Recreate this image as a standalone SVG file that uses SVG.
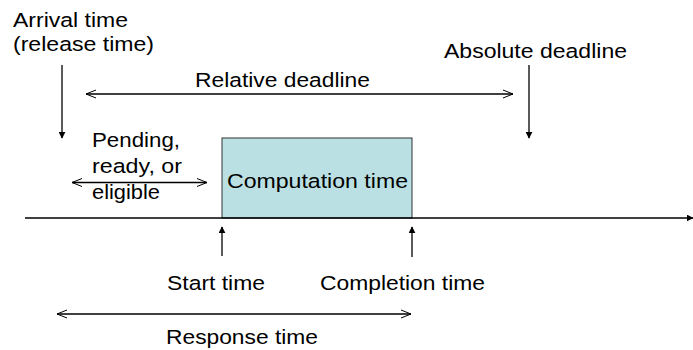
<svg xmlns="http://www.w3.org/2000/svg" width="693" height="350" viewBox="0 0 693 350">
<defs>
<marker id="fill" viewBox="0 0 10 10" refX="9" refY="5" markerWidth="7" markerHeight="7" markerUnits="userSpaceOnUse" orient="auto">
<path d="M0,0 L10,5 L0,10 z" fill="#000"/>
</marker>
<marker id="open" viewBox="0 0 10 10" refX="10" refY="5" markerWidth="10" markerHeight="10" markerUnits="userSpaceOnUse" orient="auto-start-reverse">
<path d="M0,1 L10,5 L0,9" fill="none" stroke="#000" stroke-width="1"/>
</marker>
<style>
text{font-family:"Liberation Sans",Arial,sans-serif;font-size:20.5px;fill:#000}
.ln{stroke:#000;stroke-width:1.3;fill:none}
.fa{marker-end:url(#fill)}
.oa{marker-start:url(#open);marker-end:url(#open)}
</style>
</defs>
<rect width="693" height="350" fill="#fff"/>
<g id="labels">
<text x="13" y="26.5" textLength="115" lengthAdjust="spacingAndGlyphs">Arrival time</text>
<text x="13" y="51" textLength="141" lengthAdjust="spacingAndGlyphs">(release time)</text>
<text x="195" y="87" textLength="175" lengthAdjust="spacingAndGlyphs">Relative deadline</text>
<text x="444" y="58" textLength="183" lengthAdjust="spacingAndGlyphs">Absolute deadline</text>
<text x="92" y="147" textLength="88" lengthAdjust="spacingAndGlyphs">Pending,</text>
<text x="92" y="172.5" textLength="90" lengthAdjust="spacingAndGlyphs">ready, or</text>
<text x="92" y="198.5" textLength="68" lengthAdjust="spacingAndGlyphs">eligible</text>
<text x="167" y="290" textLength="98" lengthAdjust="spacingAndGlyphs">Start time</text>
<text x="320" y="290" textLength="165" lengthAdjust="spacingAndGlyphs">Completion time</text>
<text x="166" y="344" textLength="152" lengthAdjust="spacingAndGlyphs">Response time</text>
</g>
<g id="computation">
<rect x="222" y="138" width="190" height="80" fill="#BAE0E3" stroke="#333" stroke-width="1"/>
<text x="227" y="188" textLength="181" lengthAdjust="spacingAndGlyphs">Computation time</text>
</g>
<g id="connectors">
<line class="ln fa" x1="25" y1="218" x2="693" y2="218"/>
<line class="ln fa" x1="62" y1="65" x2="62" y2="138"/>
<line class="ln fa" x1="529" y1="65" x2="529" y2="138"/>
<line class="ln fa" x1="222" y1="256" x2="222" y2="227"/>
<line class="ln fa" x1="412" y1="257" x2="412" y2="227"/>
<line class="ln oa" x1="86" y1="94" x2="513" y2="94"/>
<line class="ln oa" x1="72" y1="182.5" x2="207" y2="182.5"/>
<line class="ln oa" x1="57" y1="314" x2="411" y2="314"/>
</g>
</svg>
